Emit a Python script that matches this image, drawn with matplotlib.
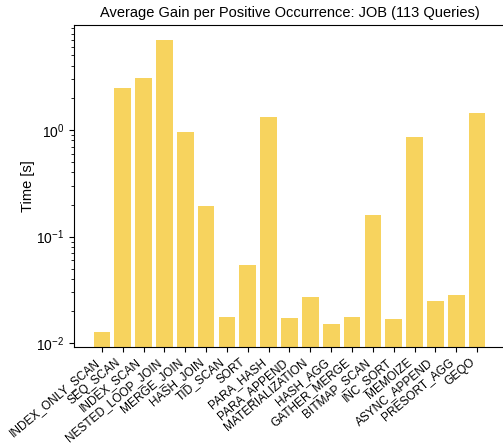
import matplotlib
matplotlib.use("Agg")
import matplotlib.pyplot as plt

categories = ["INDEX_ONLY_SCAN", "SEQ_SCAN", "INDEX_SCAN", "NESTED_LOOP_JOIN", "MERGE_JOIN",
              "HASH_JOIN", "TID_SCAN", "SORT", "PARA_HASH", "PARA_APPEND", "MATERIALIZATION",
              "HASH_AGG", "GATHER_MERGE", "BITMAP_SCAN", "INC_SORT", "MEMOIZE",
              "ASYNC_APPEND", "PRESORT_AGG", "GEQO"]
gain = [0.0129, 2.49, 3.09, 7.02, 0.95,
        0.195, 0.0177, 0.0543, 1.32, 0.0173, 0.0272,
        0.0152, 0.0177, 0.160, 0.0169, 0.86,
        0.0250, 0.0284, 1.43]

plt.rcParams['font.family'] = ['Liberation Sans', 'DejaVu Sans']
fig = plt.figure(figsize=(5.03, 4.43), dpi=100)
ax = fig.add_axes([0.147, 0.2174, 0.857, 0.7256])
x = list(range(len(categories)))
ax.bar(x, gain, width=0.8, color='#F7D35E', log=True)
ax.set_yscale('log')
ax.set_ylim(0.0093, 9.6)
ax.set_xlim(-1.34, len(categories) - 1 + 1.34)
ax.set_xticks(x)
ax.set_xticklabels(categories, rotation=40, ha='right', fontsize=8.6)
ax.tick_params(axis='y', labelsize=10)
ax.set_ylabel('Time [s]', fontsize=10.5, labelpad=1)
ax.set_title('Average Gain per Positive Occurrence: JOB (113 Queries)', fontsize=10.5)
fig.savefig('out.png', dpi=100)
